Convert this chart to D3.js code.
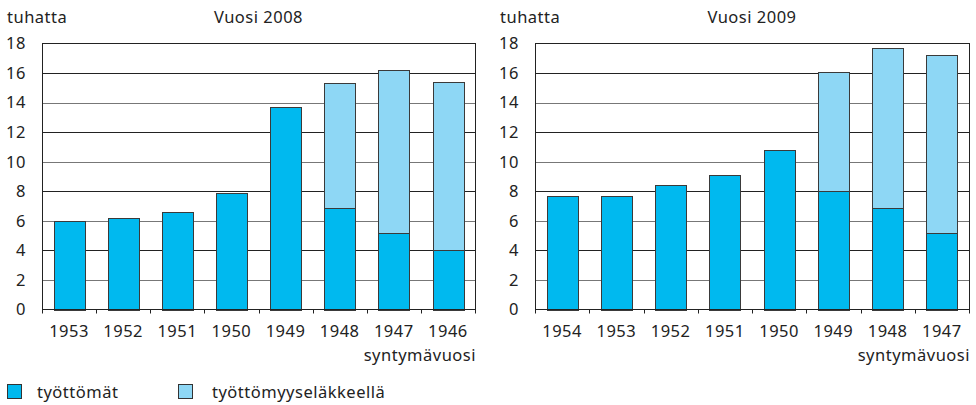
<!DOCTYPE html>
<html>
<head>
<meta charset="utf-8">
<script src="https://cdn.jsdelivr.net/npm/d3@7"></script>
<style>
  body { margin: 0; background: #fff; }
  svg text { font-family: 'Noto Sans', sans-serif; font-size: 16.5px; fill: #222; letter-spacing: 0.5px; }
</style>
</head>
<body>
<div class="chart"></div>
<script>
const width = 976, height = 405

// data (thousands)
const years2008 = ['1953', '1952', '1951', '1950', '1949', '1948', '1947', '1946']
const unemployed2008 = [6.0, 6.2, 6.6, 7.9, 13.7, 6.9, 5.2, 4.0]
const pension2008 = [0, 0, 0, 0, 0, 8.4, 11.0, 11.4]

const years2009 = ['1954', '1953', '1952', '1951', '1950', '1949', '1948', '1947']
const unemployed2009 = [7.7, 7.65, 8.4, 9.1, 10.8, 8.0, 6.9, 5.2]
const pension2009 = [0, 0, 0, 0, 0, 8.1, 10.8, 12.0]

const yTicks = [0, 2, 4, 6, 8, 10, 12, 14, 16, 18]
const seriesNames = ['työttömät', 'työttömyyseläkkeellä']
const colors = ['#00b9ef', '#8ed7f5']

const svg = d3.select('.chart').append('svg')
    .attr('width', width)
    .attr('height', height)

function drawPanel(opts) {
    const { x0, x1, title, years, unemployed, pension } = opts
    const top = 43.5, bottom = 309.5

    const x = d3.scaleBand()
        .domain(years)
        .range([x0, x1])
        .paddingInner(0.43)
        .paddingOuter(0.215)

    const y = d3.scaleLinear()
        .domain([0, 18])
        .range([bottom, top])

    const rows = years.map((yr, i) => ({ year: yr, a: unemployed[i], b: pension[i] }))
    const stacked = d3.stack().keys(['a', 'b'])(rows)

    const g = svg.append('g')

    // gridlines
    g.append('g')
        .selectAll('line')
        .data(yTicks.filter(t => t > 0 && t < 18))
        .enter().append('line')
        .attr('x1', x0)
        .attr('x2', x1)
        .attr('y1', d => Math.round(y(d)) + 0.5)
        .attr('y2', d => Math.round(y(d)) + 0.5)
        .attr('stroke', (d, i) => i % 2 ? '#222' : '#777')
        .attr('stroke-width', 1)

    // bars
    g.selectAll('g.series')
        .data(stacked)
        .enter().append('g')
        .attr('class', 'series')
        .attr('fill', (d, i) => colors[i])
        .selectAll('rect')
        .data(d => d.filter(p => p[1] - p[0] > 0))
        .enter().append('rect')
        .attr('x', d => Math.round(x(d.data.year)) + 0.5)
        .attr('width', Math.round(x.bandwidth()))
        .attr('y', d => Math.round(y(d[1])) + 0.5)
        .attr('height', d => Math.round(y(d[0])) - Math.round(y(d[1])))
        .attr('stroke', '#3a3a3a')
        .attr('stroke-width', 1)

    // frame
    g.append('rect')
        .attr('x', x0 + 0.5)
        .attr('y', top)
        .attr('width', x1 - x0)
        .attr('height', bottom - top)
        .attr('fill', 'none')
        .attr('stroke', '#222')
        .attr('stroke-width', 1)

    // y axis
    const yAxis = d3.axisLeft(y).tickValues(yTicks).tickSize(0).tickPadding(16)
    const ya = g.append('g')
        .attr('transform', `translate(${x0},0)`)
        .call(yAxis)
    ya.select('.domain').remove()
    ya.selectAll('text').attr('font-size', null).attr('font-family', null).attr('fill', '#222')

    // x axis ticks at band boundaries
    const boundaries = d3.range(years.length + 1).map(i => x0 + i * (x1 - x0) / years.length)
    g.append('g')
        .selectAll('line')
        .data(boundaries)
        .enter().append('line')
        .attr('x1', d => Math.round(d) + 0.5)
        .attr('x2', d => Math.round(d) + 0.5)
        .attr('y1', bottom)
        .attr('y2', bottom + 4)
        .attr('stroke', '#222')

    g.append('g')
        .selectAll('text')
        .data(years)
        .enter().append('text')
        .attr('x', d => x(d) + x.bandwidth() / 2)
        .attr('y', 337)
        .attr('text-anchor', 'middle')
        .text(d => d)

    g.append('text')
        .attr('x', x1 + 1)
        .attr('y', 361)
        .attr('text-anchor', 'end')
        .text('syntymävuosi')

    g.append('text')
        .attr('x', x0 - 35)
        .attr('y', 23)
        .text('tuhatta')

    g.append('text')
        .attr('x', (x0 + x1) / 2)
        .attr('y', 23)
        .attr('text-anchor', 'middle')
        .text(title)
}

drawPanel({ x0: 42, x1: 475, title: 'Vuosi 2008', years: years2008, unemployed: unemployed2008, pension: pension2008 })
drawPanel({ x0: 535, x1: 969, title: 'Vuosi 2009', years: years2009, unemployed: unemployed2009, pension: pension2009 })

// legend
const legendX = [7, 178], legendTextX = [37, 212]
const legend = svg.append('g')
    .selectAll('g')
    .data(seriesNames)
    .enter().append('g')

legend.append('rect')
    .attr('x', (d, i) => legendX[i] + 0.5)
    .attr('y', 384.5)
    .attr('width', 14)
    .attr('height', 14)
    .attr('fill', (d, i) => colors[i])
    .attr('stroke', '#333')

legend.append('text')
    .attr('x', (d, i) => legendTextX[i])
    .attr('y', 398)
    .text(d => d)
</script>
</body>
</html>
